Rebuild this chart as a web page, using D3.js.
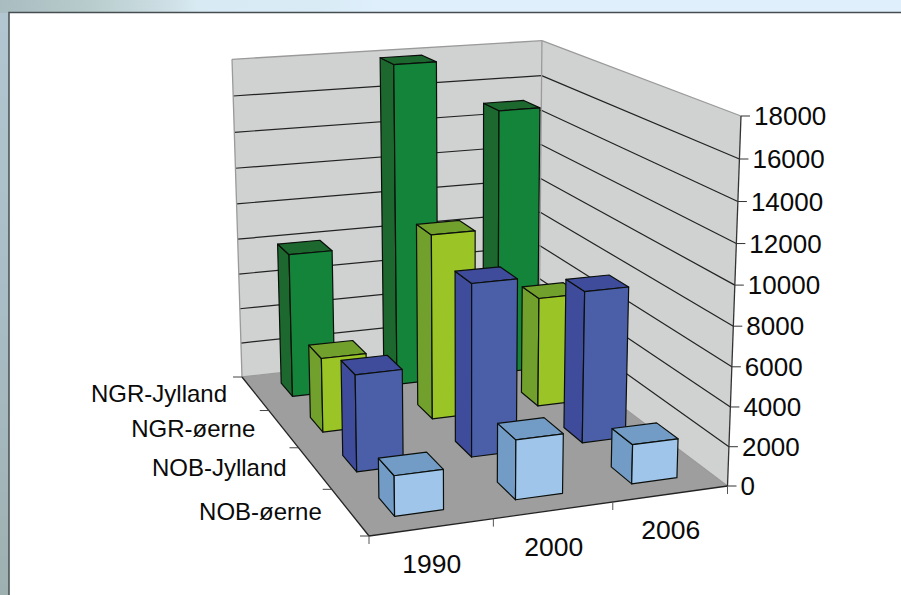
<!DOCTYPE html>
<html>
<head>
<meta charset="utf-8">
<script src="https://cdn.jsdelivr.net/npm/d3@7"></script>
<style>
    html, body { margin: 0; padding: 0; background: #fff; }
    svg { display: block; }
    text { font-family: "Liberation Sans", sans-serif; fill: #0a0a0a; }
</style>
</head>
<body>
<svg id="chart" width="901" height="595"></svg>
<script>
const years = ["1990", "2000", "2006"];
const seriesNames = ["NGR-Jylland", "NGR-øerne", "NOB-Jylland", "NOB-øerne"];
const ngrJylland = [8000, 17900, 15000];
const ngrOerne = [4000, 10000, 6000];
const nobJylland = [5000, 9000, 8000];
const nobOerne = [2000, 3000, 2000];
const seriesValues = [ngrJylland, ngrOerne, nobJylland, nobOerne];
const frontColors = ["#14843a", "#9bc427", "#4a5fa8", "#9fc6ea"];
const sideColors = ["#1c682e", "#72a02c", "#3f4b9b", "#729bc5"];

const svg = d3.select("#chart");

// page background behind the white panel
const defs = svg.append("defs");
const strip = defs.append("linearGradient").attr("id", "strip");
[["0", "#a9bcc0"], ["0.1", "#b8cccd"], ["0.19", "#cfe0e6"], ["0.22", "#d8eaf3"], ["0.36", "#d9ebf5"], ["0.42", "#dff0fc"], ["1", "#dff0fc"]]
    .forEach(s => strip.append("stop").attr("offset", s[0]).attr("stop-color", s[1]));
const side = defs.append("linearGradient").attr("id", "side").attr("x1", 0).attr("x2", 0).attr("y1", 0).attr("y2", 1);
[["0", "#b2c6d1"], ["0.5", "#a9bdc6"], ["1", "#9eb0b0"]]
    .forEach(s => side.append("stop").attr("offset", s[0]).attr("stop-color", s[1]));
svg.append("rect").attr("width", 901).attr("height", 13).attr("fill", "url(#strip)");
svg.append("rect").attr("y", 13).attr("width", 9).attr("height", 582).attr("fill", "url(#side)");
svg.append("path").attr("d", "M9,595V12.5H901").attr("fill", "none").attr("stroke", "#454d50").attr("stroke-width", 1.5);

// box corners on screen: floor and the tops of the walls
const frontLeft = [369, 536], frontRight = [727.5, 486], backRight = [539, 344], backLeft = [242, 377];
const topLeft = [232, 59], topRight = [741, 116];

// homography for the floor, unit square to quad
function floorMatrix(p0, p1, p2, p3) {
    const dx1 = p1[0] - p2[0], dx2 = p3[0] - p2[0], sx = p0[0] - p1[0] + p2[0] - p3[0];
    const dy1 = p1[1] - p2[1], dy2 = p3[1] - p2[1], sy = p0[1] - p1[1] + p2[1] - p3[1];
    const det = dx1 * dy2 - dx2 * dy1;
    const g = (sx * dy2 - dx2 * sy) / det, h = (dx1 * sy - sx * dy1) / det;
    return {
        a: p1[0] - p0[0] + g * p1[0], b: p3[0] - p0[0] + h * p3[0], c: p0[0],
        d: p1[1] - p0[1] + g * p1[1], e: p3[1] - p0[1] + h * p3[1], f: p0[1],
        g, h
    };
}
const m = floorMatrix(frontLeft, frontRight, backRight, backLeft);

// vertical lines meet far below the chart
const slopeL = (topLeft[0] - backLeft[0]) / (topLeft[1] - backLeft[1]);
const slopeR = (topRight[0] - frontRight[0]) / (topRight[1] - frontRight[1]);
const vpY = (frontRight[0] - slopeR * frontRight[1] - backLeft[0] + slopeL * backLeft[1]) / (slopeL - slopeR);
const vpX = backLeft[0] + slopeL * (vpY - backLeft[1]);
const k = (m.g + 1) * (topRight[0] - frontRight[0]) / (vpX - topRight[0]);

// u along the years, v into the depth, w up
function project(u, v, w) {
    const den = m.g * u + m.h * v + 1 + w * k;
    return [
        (m.a * u + m.b * v + m.c + w * k * vpX) / den,
        (m.d * u + m.e * v + m.f + w * k * vpY) / den
    ];
}

const xScale = d3.scaleBand().domain(years).range([0, 1]).paddingInner(0.6).paddingOuter(0.3);
const zScale = d3.scaleBand().domain(seriesNames).range([1, 0]).paddingInner(0.6).paddingOuter(0.3);
const yScale = d3.scaleLinear().domain([0, 18000]).range([0, 1]);
const yTicks = yScale.ticks(9);

const polygon = pts => d3.line()(pts) + "Z";
function face(pts, fill, stroke, width) {
    svg.append("path").attr("d", polygon(pts)).attr("fill", fill)
        .attr("stroke", stroke || "none").attr("stroke-width", width || 1).attr("stroke-linejoin", "round");
}

// walls and floor
face([project(0, 1, 0), project(1, 1, 0), project(1, 1, 1), project(0, 1, 1)], "#d0d2d1");
face([project(1, 0, 0), project(1, 1, 0), project(1, 1, 1), project(1, 0, 1)], "#d0d2d1");
face([project(0, 0, 0), project(1, 0, 0), project(1, 1, 0), project(0, 1, 0)], "#9e9e9e");

const drawLine = (a, b, color, width) => svg.append("path")
    .attr("d", d3.line()([a, b])).attr("fill", "none")
    .attr("stroke", color).attr("stroke-width", width || 1);

// gridlines
yTicks.filter(d => d > 0 && d < 18000).forEach(d => {
    const w = yScale(d);
    drawLine(project(0, 1, w), project(1, 1, w), "#222", 1.2);
    drawLine(project(1, 1, w), project(1, 0, w), "#222", 1.2);
});

// wall outline
[[project(0, 1, 0), project(0, 1, 1)], [project(0, 1, 1), project(1, 1, 1)], [project(1, 1, 1), project(1, 0, 1)],
 [project(1, 1, 0), project(1, 1, 1)], [project(0, 1, 0), project(1, 1, 0)], [project(1, 1, 0), project(1, 0, 0)]]
    .forEach(l => drawLine(l[0], l[1], "#9a9a9a", 1.3));

// axis lines
drawLine(project(1, 0, 0), project(1, 0, 1), "#333", 1.3);
drawLine(project(0, 0, 0), project(1, 0, 0), "#222", 1.3);
drawLine(project(0, 0, 0), project(0, 1, 0), "#222", 1.3);

// value axis
yTicks.forEach(d => {
    const p = project(1, 0, yScale(d));
    drawLine(p, [p[0] + 9, p[1]], "#333");
    svg.append("text").attr("x", p[0] + 13).attr("y", p[1]).attr("dy", "0.35em")
        .attr("font-size", 26).text(d3.format("d")(d));
});

// year axis
const yearEdges = d3.range(years.length + 1).map(i => i / years.length);
yearEdges.forEach(u => {
    const p = project(u, 0, 0);
    drawLine(p, [p[0], p[1] + 8], "#555");
});
years.forEach((y, i) => {
    const p = project((i + 0.5) / years.length, 0, 0);
    svg.append("text").attr("x", p[0]).attr("y", p[1] + 36).attr("dy", "0.35em")
        .attr("font-size", 26.5).attr("text-anchor", "middle").text(y);
});

// series axis
const seriesEdges = d3.range(seriesNames.length + 1).map(i => i / seriesNames.length);
seriesEdges.forEach(v => {
    const p = project(0, v, 0);
    drawLine(p, [p[0] - 9, p[1]], "#444");
});
seriesNames.forEach((s, i) => {
    const p = project(0, 1 - (i + 0.5) / seriesNames.length, 0);
    svg.append("text").attr("x", p[0] - 28).attr("y", p[1]).attr("dy", "0.35em")
        .attr("font-size", 24).attr("text-anchor", "end").text(s);
});

// bars, back row first
seriesNames.forEach((s, si) => {
    const v0 = zScale(s), v1 = v0 + zScale.bandwidth();
    years.forEach((y, yi) => {
        const u0 = xScale(y), u1 = u0 + xScale.bandwidth();
        const w = yScale(seriesValues[si][yi]);
        const stroke = "#0b0f0b";
        face([project(u0, v1, 0), project(u0, v0, 0), project(u0, v0, w), project(u0, v1, w)], sideColors[si], stroke, 1.2);
        face([project(u0, v1, w), project(u1, v1, w), project(u1, v0, w), project(u0, v0, w)], sideColors[si], stroke, 1.2);
        face([project(u0, v0, 0), project(u1, v0, 0), project(u1, v0, w), project(u0, v0, w)], frontColors[si], stroke, 1.2);
    });
});
</script>
</body>
</html>
